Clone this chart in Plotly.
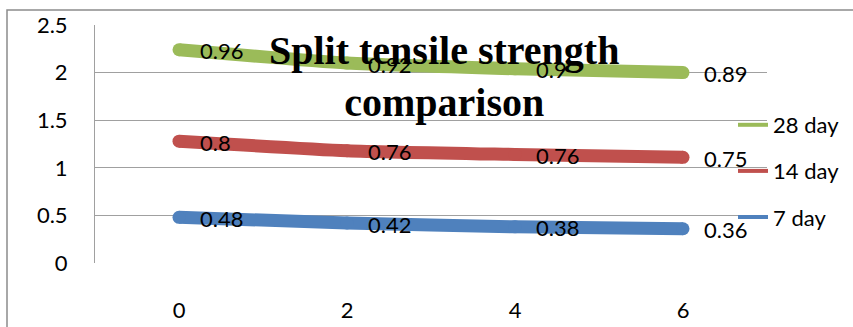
import numpy as np
import plotly.graph_objects as go

# ---- data ----
x_vals = [0, 2, 4, 6]
day7 = [0.48, 0.42, 0.38, 0.36]
day14 = [0.8, 0.76, 0.76, 0.75]
day28 = [0.96, 0.92, 0.9, 0.89]
series_names = ["7 day", "14 day", "28 day"]
series_colors = ["#4F81BD", "#C0504D", "#9BBB59"]
y_ticks = [0, 0.5, 1, 1.5, 2, 2.5]
x_ticks = [0, 2, 4, 6]
title_text = "<b>Split tensile strength<br>comparison</b>"

W, H = 853, 327
ML, MR, MT, MB = 95, 86, 25, 64
PW, PH = W - ML - MR, H - MT - MB

def px_x(p):
    return (p - ML) / PW

def px_y(p):
    return (H - MB - p) / PH

series = [day7, day14, day28]
stacked = np.cumsum(np.array(series), axis=0)

fig = go.Figure()
FONT = "Lato"
for i, (name, col) in enumerate(zip(series_names, series_colors)):
    fig.add_trace(go.Scatter(
        x=x_vals, y=stacked[i], mode="lines+markers", name=name,
        line=dict(color=col, width=13, shape="spline", smoothing=0.6),
        marker=dict(color=col, size=13, line=dict(width=0)),
        showlegend=False, hoverinfo="skip"))

# legend entries (order: 28, 14, 7)
for i in [2, 1, 0]:
    fig.add_trace(go.Scatter(
        x=[None], y=[None], mode="lines", name=series_names[i],
        line=dict(color=series_colors[i], width=4),
        legendgroup=series_names[i], showlegend=True))

annotations = []
for i in range(3):
    for xv, yv, raw in zip(x_vals, stacked[i], series[i]):
        annotations.append(dict(
            x=xv, y=yv, xref="x", yref="y", text=str(raw), showarrow=False,
            xanchor="left", yanchor="middle", xshift=19, yshift=-1,
            font=dict(family=FONT, size=22, color="black")))

annotations.append(dict(
    x=px_x(444), y=px_y(76), xref="paper", yref="paper", text=title_text,
    showarrow=False, xanchor="center", yanchor="middle",
    font=dict(family="Liberation Serif", size=40, color="black")))

fig.update_layout(
    width=W, height=H,
    margin=dict(l=ML, r=MR, t=MT, b=MB, autoexpand=False),
    paper_bgcolor="white", plot_bgcolor="white",
    font=dict(family=FONT, size=22, color="black"),
    annotations=annotations,
    legend=dict(x=px_x(733), y=px_y(104), xanchor="left", yanchor="top",
                tracegroupgap=14.5, bgcolor="rgba(0,0,0,0)",
                font=dict(family=FONT, size=22, color="black")),
    shapes=[dict(type="rect", xref="paper", yref="paper",
                 x0=px_x(7), x1=px_x(W + 20), y0=px_y(H + 20), y1=px_y(10),
                 line=dict(color="#8C8C8C", width=1.5), layer="below")],
    xaxis=dict(range=[-1, 7], tickvals=x_ticks, showgrid=False, zeroline=False,
               showline=False, ticks="outside", ticklen=28,
               tickcolor="rgba(0,0,0,0)", tickfont=dict(family=FONT, size=22)),
    yaxis=dict(range=[0, 2.5], tickvals=y_ticks, showgrid=True,
               gridcolor="#A0A0A0", gridwidth=1, zeroline=False,
               showline=True, linecolor="#A0A0A0", linewidth=1,
               ticks="outside", ticklen=22, tickcolor="rgba(0,0,0,0)",
               tickfont=dict(family=FONT, size=22)),
)
fig.write_html("out.html", config={"displayModeBar": False},
               post_script="document.body.style.margin='0';document.body.style.overflow='hidden';")
